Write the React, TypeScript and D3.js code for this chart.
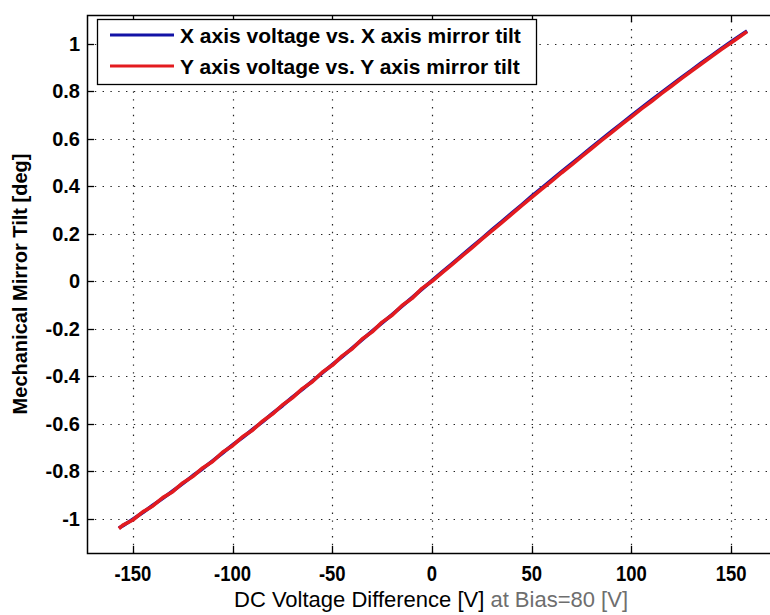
import React, { useRef, useEffect } from "react";
import * as d3 from "d3";

// DC voltage difference [V]
const voltages = [
  -157, -155, -150, -145, -140, -135, -130, -125, -120, -115, -110, -105, -100,
  -95, -90, -85, -80, -75, -70, -65, -60, -55, -50, -45, -40, -35, -30, -25,
  -20, -15, -10, -5, 0, 5, 10, 15, 20, 25, 30, 35, 40, 45, 50, 55, 60, 65, 70,
  75, 80, 85, 90, 95, 100, 105, 110, 115, 120, 125, 130, 135, 140, 145, 150,
  155, 158,
];

// mirror tilt [deg], X axis
const tiltX = [
  -1.04, -1.03, -1.003, -0.975, -0.944, -0.915, -0.884, -0.853, -0.82, -0.79,
  -0.757, -0.724, -0.69, -0.659, -0.625, -0.593, -0.557, -0.525, -0.489,
  -0.456, -0.421, -0.387, -0.352, -0.318, -0.282, -0.247, -0.211, -0.176,
  -0.141, -0.106, -0.07, -0.034, 0.002, 0.037, 0.072, 0.108, 0.144, 0.179,
  0.215, 0.25, 0.286, 0.321, 0.357, 0.391, 0.426, 0.46, 0.494, 0.528, 0.563,
  0.596, 0.63, 0.663, 0.696, 0.729, 0.761, 0.793, 0.825, 0.856, 0.887, 0.918,
  0.948, 0.978, 1.007, 1.036, 1.053,
];

// mirror tilt [deg], Y axis
const tiltY = [
  -1.042, -1.028, -1.006, -0.972, -0.947, -0.912, -0.887, -0.85, -0.823,
  -0.787, -0.76, -0.721, -0.693, -0.656, -0.628, -0.59, -0.56, -0.522, -0.492,
  -0.453, -0.424, -0.384, -0.355, -0.315, -0.285, -0.244, -0.214, -0.173,
  -0.144, -0.103, -0.073, -0.031, -0.001, 0.034, 0.069, 0.105, 0.14, 0.176,
  0.211, 0.246, 0.282, 0.317, 0.352, 0.387, 0.421, 0.456, 0.489, 0.524, 0.558,
  0.592, 0.625, 0.659, 0.691, 0.725, 0.756, 0.789, 0.82, 0.852, 0.883, 0.914,
  0.944, 0.975, 1.003, 1.033, 1.05,
];

const xTicks = [-150, -100, -50, 0, 50, 100, 150];
const yTicks = [-1, -0.8, -0.6, -0.4, -0.2, 0, 0.2, 0.4, 0.6, 0.8, 1];
const seriesNames = [
  "X axis voltage vs. X axis mirror tilt",
  "Y axis voltage vs. Y axis mirror tilt",
];
const seriesColors = ["#1212a6", "#e31b1f"];

const App = () => {
  const svgRef = useRef(null);

  useEffect(() => {
    const svg = d3.select(svgRef.current);
    svg.selectAll("*").remove();

    const width = 770;
    const height = 615;
    const plot = { left: 87, right: 777, top: 15, bottom: 553 };
    const font = "'Liberation Sans', Arial, sans-serif";

    const x = d3.scaleLinear().domain([-173, 173]).range([plot.left, plot.right]);
    const y = d3.scaleLinear().domain([-1.145, 1.12]).range([plot.bottom, plot.top]);

    svg.attr("width", width).attr("height", height);
    svg.append("rect").attr("width", width).attr("height", height).attr("fill", "#fff");

    // dotted grid
    const grid = svg.append("g").attr("stroke", "#222").attr("stroke-width", 1.2)
      .attr("stroke-dasharray", "1.4,6.4");
    grid.selectAll("line.v").data(xTicks).join("line")
      .attr("x1", d => Math.round(x(d)) + 0.5).attr("x2", d => Math.round(x(d)) + 0.5)
      .attr("y1", plot.bottom).attr("y2", plot.top);
    grid.selectAll("line.h").data(yTicks).join("line")
      .attr("class", "h")
      .attr("y1", d => Math.round(y(d)) + 0.5).attr("y2", d => Math.round(y(d)) + 0.5)
      .attr("x1", plot.left).attr("x2", plot.right);

    // frame ticks (inward)
    const tk = svg.append("g").attr("stroke", "#000").attr("stroke-width", 1.3);
    xTicks.forEach(d => {
      const px = Math.round(x(d)) + 0.5;
      tk.append("line").attr("x1", px).attr("x2", px).attr("y1", plot.bottom).attr("y2", plot.bottom - 7);
      tk.append("line").attr("x1", px).attr("x2", px).attr("y1", plot.top).attr("y2", plot.top + 7);
    });
    yTicks.forEach(d => {
      const py = Math.round(y(d)) + 0.5;
      tk.append("line").attr("y1", py).attr("y2", py).attr("x1", plot.left).attr("x2", plot.left + 7);
    });

    // data lines
    const line = d3.line<number>().x((d, i) => x(voltages[i])).y(d => y(d));
    [tiltX, tiltY].forEach((s, i) => {
      svg.append("path").datum(s).attr("d", line).attr("fill", "none")
        .attr("stroke", seriesColors[i]).attr("stroke-width", 3.6)
        .attr("stroke-linejoin", "round");
    });

    // axes box
    svg.append("rect").attr("x", plot.left + 0.5).attr("y", plot.top + 0.5)
      .attr("width", plot.right - plot.left).attr("height", plot.bottom - plot.top)
      .attr("fill", "none").attr("stroke", "#000").attr("stroke-width", 1.5);

    // x tick labels, condensed look
    const sx = 0.84;
    svg.append("g").attr("transform", `scale(${sx},1)`)
      .selectAll("text.xt").data(xTicks).join("text")
      .attr("class", "xt")
      .attr("x", d => x(d) / sx).attr("y", 581)
      .attr("text-anchor", "middle")
      .style("font-family", font)
      .style("font-size", "22px").style("font-weight", "bold")
      .text(d => d);

    svg.selectAll("text.yt").data(yTicks).join("text")
      .attr("class", "yt")
      .attr("x", 80).attr("y", d => y(d) + 7)
      .attr("text-anchor", "end")
      .style("font-family", font)
      .style("font-size", "20px").style("font-weight", "bold")
      .text(d => d);

    // axis titles
    const xl = svg.append("text").attr("x", 431).attr("y", 607)
      .attr("text-anchor", "middle")
      .style("font-family", font)
      .style("font-size", "22px");
    xl.append("tspan").attr("fill", "#000").text("DC Voltage Difference [V] ");
    xl.append("tspan").attr("fill", "#6e6e6e").text("at Bias=80 [V]");

    svg.append("text")
      .attr("transform", "translate(27,284) rotate(-90)")
      .attr("text-anchor", "middle")
      .style("font-family", font)
      .style("font-size", "20px").style("font-weight", "bold")
      .text("Mechanical Mirror Tilt [deg]");

    // legend
    const lg = svg.append("g");
    lg.append("rect").attr("x", 97.5).attr("y", 19.5).attr("width", 439).attr("height", 65)
      .attr("fill", "#fff").attr("stroke", "#000").attr("stroke-width", 1.3);
    seriesNames.forEach((name, i) => {
      const ly = 35 + i * 31;
      lg.append("line").attr("x1", 110).attr("x2", 174).attr("y1", ly).attr("y2", ly)
        .attr("stroke", seriesColors[i]).attr("stroke-width", 3);
      lg.append("text").attr("x", 180).attr("y", ly + 7.5)
        .style("font-family", font)
        .style("font-size", "21px").style("font-weight", "bold")
        .text(name);
    });
  }, []);

  return <svg ref={svgRef} style={{ position: "absolute", left: 0, top: 0, display: "block" }} />;
};

export default App;
